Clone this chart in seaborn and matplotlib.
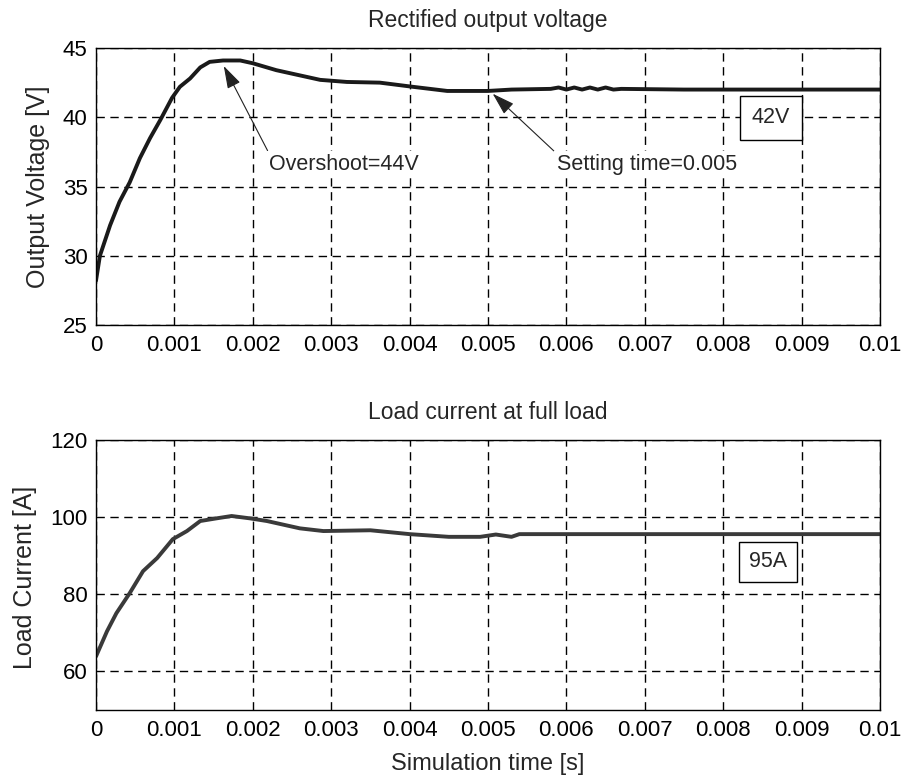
import numpy as np
import pandas as pd
import matplotlib
matplotlib.use("Agg")
import matplotlib.pyplot as plt
import seaborn as sns

# values (time in s)
t_volt = [0.0, 0.00005, 0.00018, 0.0003, 0.00043, 0.00056, 0.00069, 0.00082,
          0.00097, 0.00107, 0.0012, 0.00133, 0.00145, 0.00162, 0.00184, 0.0020,
          0.0023, 0.00286, 0.0032, 0.00362, 0.00404, 0.00448, 0.0050, 0.0053,
          0.0058, 0.0059, 0.0060, 0.0061, 0.0062, 0.0063, 0.0064, 0.0065,
          0.0066, 0.0067, 0.0075, 0.0100]
v_out = [28.2, 30.0, 32.2, 33.9, 35.3, 37.05, 38.5, 39.8,
         41.4, 42.2, 42.8, 43.6, 44.0, 44.1, 44.1, 43.9,
         43.4, 42.7, 42.55, 42.5, 42.2, 41.9, 41.9, 42.0,
         42.05, 42.15, 42.0, 42.15, 42.0, 42.15, 42.0, 42.15,
         42.0, 42.05, 42.0, 42.0]

t_curr = [0.0, 0.00014, 0.00026, 0.00043, 0.0006, 0.00078, 0.00098, 0.00116,
          0.00133, 0.00154, 0.00173, 0.00196, 0.00218, 0.0026, 0.0029, 0.0035,
          0.0040, 0.0045, 0.0049, 0.0051, 0.0053, 0.0054, 0.0075, 0.0100]
i_load = [63.9, 70.4, 75.1, 80.3, 86.0, 89.4, 94.3, 96.4,
          99.0, 99.7, 100.3, 99.7, 99.0, 97.1, 96.4, 96.6,
          95.6, 94.9, 94.9, 95.5, 94.9, 95.6, 95.6, 95.6]

xticks = [0, 0.001, 0.002, 0.003, 0.004, 0.005, 0.006, 0.007, 0.008, 0.009, 0.01]
xticklabels = ["0", "0.001", "0.002", "0.003", "0.004", "0.005", "0.006",
               "0.007", "0.008", "0.009", "0.01"]

sns.set_style("white")
plt.rcParams['font.family'] = ['Liberation Sans', 'DejaVu Sans']

df_v = pd.DataFrame({"t": t_volt, "v": v_out})
df_i = pd.DataFrame({"t": t_curr, "i": i_load})

fig = plt.figure(figsize=(9.09, 7.77), dpi=100)
ax1 = fig.add_axes([0.1056, 0.5817, 0.8625, 0.3565])
ax2 = fig.add_axes([0.1056, 0.0862, 0.8625, 0.3475])

sns.lineplot(data=df_v, x="t", y="v", ax=ax1, color="#1a1a1a", lw=2.8)
sns.lineplot(data=df_i, x="t", y="i", ax=ax2, color="#3a3a3a", lw=2.8)

def style(ax, ylim, yticks):
    ax.set_xlim(0, 0.01)
    ax.set_ylim(*ylim)
    ax.set_xticks(xticks)
    ax.set_xticklabels(xticklabels)
    ax.set_yticks(yticks)
    ax.grid(True, color="black", linestyle=(0, (6, 4)), linewidth=1.0)
    ax.tick_params(direction="in", labelsize=16, length=4, colors="black")
    ax.tick_params(axis="x", pad=7)
    ax.tick_params(axis="y", pad=6)
    for s in ax.spines.values():
        s.set_color("black")
        s.set_linewidth(1.0)

style(ax1, (25, 45), [25, 30, 35, 40, 45])
style(ax2, (50, 120), [60, 80, 100, 120])

ax1.set_title("Rectified output voltage", fontsize=16.5, pad=15)
ax1.set_xlabel("")
ax1.set_ylabel("Output Voltage [V]", fontsize=18)
ax1.yaxis.set_label_coords(-0.0587, 0.5)
ax2.set_title("Load current at full load", fontsize=16.5, pad=15)
ax2.set_xlabel("Simulation time [s]", fontsize=17, labelpad=9)
ax2.set_ylabel("Load Current [A]", fontsize=18)
ax2.yaxis.set_label_coords(-0.0753, 0.49)

arrow = dict(arrowstyle="-|>,head_length=0.9,head_width=0.28", color="#222222", lw=0.8,
             shrinkA=0, shrinkB=0, relpos=(0, 1))
white = dict(boxstyle="square,pad=0.15", fc="white", ec="none")
ax1.annotate("Overshoot=44V", xy=(0.00163, 43.7), xytext=(0.00221, 36.6),
             fontsize=15.5, arrowprops=arrow, ha="left", va="center", bbox=white)
ax1.annotate("Setting time=0.005", xy=(0.00506, 41.7), xytext=(0.00588, 36.6),
             fontsize=15.5, arrowprops=arrow, ha="left", va="center", bbox=white)
ax1.text(0.00861, 39.95, "42V", fontsize=15.5, ha="center", va="center",
         bbox=dict(boxstyle="square,pad=0.55", fc="white", ec="black", lw=1))
ax2.text(0.00857, 88.4, "95A", fontsize=15.5, ha="center", va="center",
         bbox=dict(boxstyle="square,pad=0.45", fc="white", ec="black", lw=1))

fig.savefig("out.png", dpi=100)
